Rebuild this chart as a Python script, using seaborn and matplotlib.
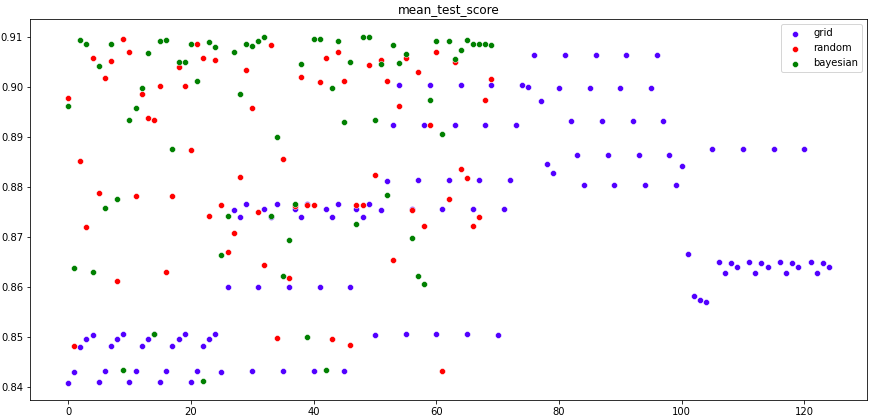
import numpy as np
import pandas as pd
import matplotlib
matplotlib.use("Agg")
import matplotlib.pyplot as plt
import seaborn as sns

# mean_test_score per iteration
grid = [
    0.8408, 0.8430, 0.8480, 0.8495, 0.8503,
    0.8410, 0.8432, 0.8482, 0.8495, 0.8505,
    0.8410, 0.8432, 0.8482, 0.8495, 0.8505,
    0.8410, 0.8432, 0.8482, 0.8495, 0.8505,
    0.8410, 0.8432, 0.8482, 0.8495, 0.8505,
    0.8430, 0.8600, 0.8753, 0.8740, 0.8765,
    0.8432, 0.8600, 0.8755, 0.8740, 0.8765,
    0.8432, 0.8600, 0.8755, 0.8740, 0.8765,
    0.8432, 0.8600, 0.8755, 0.8740, 0.8765,
    0.8432, 0.8600, 0.8755, 0.8740, 0.8765,
    0.8503, 0.8753, 0.8812, 0.8925, 0.9005,
    0.8505, 0.8755, 0.8813, 0.8923, 0.9005,
    0.8505, 0.8755, 0.8813, 0.8923, 0.9005,
    0.8505, 0.8755, 0.8813, 0.8923, 0.9005,
    0.8504, 0.8755, 0.8813, 0.8923, 0.9005,
    0.9001, 0.9065, 0.8973, 0.8845, 0.8827,
    0.8999, 0.9065, 0.8933, 0.8863, 0.8803,
    0.8999, 0.9065, 0.8933, 0.8863, 0.8803,
    0.8999, 0.9065, 0.8933, 0.8863, 0.8803,
    0.8999, 0.9065, 0.8933, 0.8863, 0.8803,
    0.8841, 0.8666, 0.8582, 0.8574, 0.8570,
    0.8875, 0.8650, 0.8628, 0.8648, 0.8640,
    0.8875, 0.8650, 0.8628, 0.8648, 0.8640,
    0.8875, 0.8650, 0.8628, 0.8648, 0.8640,
    0.8875, 0.8650, 0.8628, 0.8648, 0.8640,
]

random_ = [
    0.8979, 0.8482, 0.8851, 0.8720, 0.9058,
    0.8787, 0.9018, 0.9052, 0.8612, 0.9097,
    0.9071, 0.8781, 0.8987, 0.8939, 0.8935,
    0.9003, 0.8630, 0.8782, 0.9041, 0.9003,
    0.8873, 0.9087, 0.9059, 0.8742, 0.9055,
    0.8764, 0.8670, 0.8708, 0.8819, 0.9035,
    0.8959, 0.8750, 0.8644, 0.9085, 0.8498,
    0.8855, 0.8618, 0.8762, 0.9021, 0.8764,
    0.8764, 0.9011, 0.9059, 0.8496, 0.9071,
    0.9013, 0.8484, 0.8764, 0.8764, 0.9045,
    0.8823, 0.9055, 0.9013, 0.8654, 0.8963,
    0.9059, 0.8753, 0.9031, 0.8722, 0.8925,
    0.9071, 0.8431, 0.8776, 0.9051, 0.8835,
    0.8817, 0.8722, 0.8740, 0.8975, 0.9016,
]

bayesian = [
    0.8963, 0.8638, 0.9095, 0.9087, 0.8630,
    0.9043, 0.8758, 0.9087, 0.8776, 0.8433,
    0.8935, 0.8959, 0.8999, 0.9069, 0.8506,
    0.9093, 0.9095, 0.8875, 0.9051, 0.9051,
    0.9087, 0.9013, 0.8411, 0.9091, 0.9081,
    0.8664, 0.8742, 0.9071, 0.8987, 0.9087,
    0.9083, 0.9093, 0.9101, 0.8742, 0.8899,
    0.8622, 0.8694, 0.8766, 0.9047, 0.8500,
    0.9097, 0.9097, 0.8433, 0.8999, 0.9093,
    0.8931, 0.9051, 0.8726, 0.9101, 0.9101,
    0.8935, 0.9047, 0.8784, 0.9085, 0.9049,
    0.9067, 0.8698, 0.8622, 0.8606, 0.8975,
    0.9093, 0.8905, 0.9093, 0.9057, 0.9075,
    0.9095, 0.9087, 0.9087, 0.9087, 0.9084,
]

series = [
    ("grid", grid, "#5200ff"),
    ("random", random_, "#ff0000"),
    ("bayesian", bayesian, "#008000"),
]

fig = plt.figure(figsize=(872 / 72, 419 / 72), dpi=72)
ax = fig.add_subplot(111)
fig.subplots_adjust(left=30 / 872, right=867 / 872, top=1 - 19.3 / 419, bottom=1 - 400 / 419)

for name, vals, color in series:
    sns.scatterplot(x=np.arange(len(vals)), y=vals, color=color, label=name, ax=ax)

ax.set_title("mean_test_score")
ax.legend(loc="upper right")

plt.savefig("out.png", dpi=72)
